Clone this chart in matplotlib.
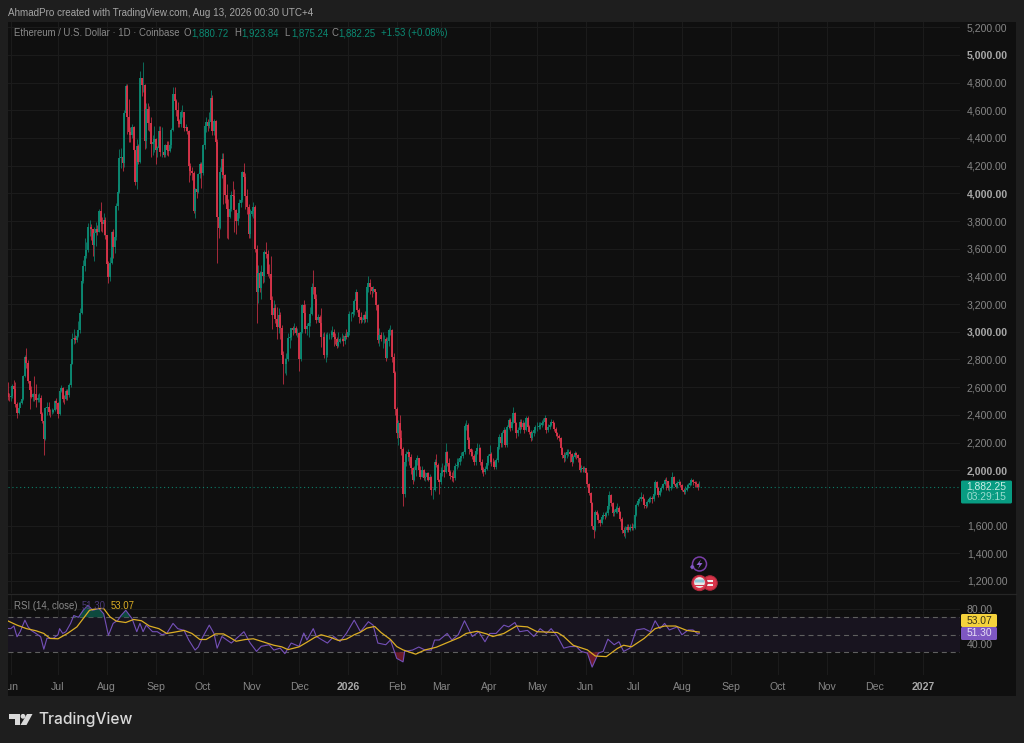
import numpy as np
import pandas as pd
import matplotlib
matplotlib.use('Agg')
import matplotlib.pyplot as plt
from matplotlib.patches import Rectangle, Circle, Polygon, FancyBboxPatch

plt.rcParams['font.family'] = ['Liberation Sans', 'DejaVu Sans']

# daily candles, one row per month (May 30 2025 -> Aug 12 2026)
closes = [
    2532, 2528,
    2538, 2606, 2590, 2478, 2415, 2448, 2488, 2513, 2681, 2817, 2771, 2644, 2579, 2530, 2548, 2547, 2509, 2524, 2525, 2406, 2355, 2228, 2446, 2454, 2420, 2418, 2424, 2436, 2500, 2486,
    2406, 2570, 2595, 2515, 2513, 2570, 2541, 2615, 2770, 2951, 2957, 2943, 2971, 3012, 3139, 3370, 3477, 3550, 3593, 3758, 3760, 3745, 3628, 3715, 3745, 3722, 3875, 3795, 3780, 3805, 3697,
    3490, 3395, 3495, 3720, 3612, 3683, 3910, 4011, 4258, 4260, 4220, 4580, 4778, 4555, 4440, 4425, 4480, 4310, 4080, 4340, 4228, 4830, 4780, 4780, 4375, 4610, 4510, 4505, 4360, 4370, 4390,
    4310, 4325, 4450, 4300, 4300, 4280, 4350, 4310, 4305, 4350, 4460, 4715, 4670, 4600, 4525, 4500, 4590, 4590, 4470, 4480, 4450, 4200, 4165, 4150, 3875, 4030, 4010, 4140, 4215, 4145,
    4350, 4485, 4515, 4490, 4515, 4690, 4450, 4525, 4370, 3830, 3750, 4155, 4250, 4130, 3985, 3890, 3830, 3890, 3985, 3980, 3880, 3800, 3855, 3930, 3950, 4155, 4120, 3980, 3900, 3705, 3850,
    3870, 3905, 3600, 3290, 3425, 3315, 3435, 3400, 3580, 3560, 3420, 3415, 3230, 3120, 3170, 3090, 3035, 3120, 3025, 2830, 2765, 2770, 2805, 2955, 2960, 3025, 3010, 3030, 2990, 2990,
    2800, 2995, 3190, 3135, 3020, 3045, 3060, 3130, 3325, 3320, 3240, 3085, 3110, 3060, 2960, 2965, 2830, 2830, 2975, 2975, 2980, 3000, 2960, 2945, 2900, 2925, 2945, 2950, 2935, 2970, 2965,
    3000, 3125, 3125, 3140, 3220, 3290, 3160, 3110, 3085, 3085, 3120, 3090, 3325, 3350, 3320, 3295, 3310, 3285, 3190, 2940, 2980, 2950, 2950, 2950, 2810, 2930, 3010, 3010, 2820, 2700, 2440,
    2270, 2340, 2230, 2150, 1825, 2060, 2120, 2134, 2098, 2014, 1930, 2002, 2074, 2086, 2002, 1954, 2002, 1942, 1954, 1978, 1930, 1954, 1857, 1857, 2062, 2038, 1930, 1918,
    1978, 2000, 1990, 2130, 2050, 1990, 1960, 1950, 1942, 2030, 2040, 2060, 2090, 2100, 2130, 2320, 2330, 2220, 2150, 2130, 2100, 2060, 2140, 2160, 2160, 2060, 2000, 1990, 2010, 2050, 2100,
    2120, 2062, 2060, 2026, 2074, 2171, 2243, 2195, 2267, 2291, 2183, 2315, 2363, 2303, 2351, 2411, 2339, 2267, 2291, 2351, 2315, 2339, 2291, 2375, 2315, 2279, 2231, 2267, 2291, 2310,
    2310, 2320, 2327, 2340, 2351, 2375, 2291, 2310, 2327, 2345, 2339, 2300, 2267, 2250, 2231, 2159, 2110, 2086, 2110, 2134, 2134, 2120, 2062, 2095, 2122, 2110, 2086, 2002, 2014, 2010, 2014,
    1978, 1900, 1834, 1761, 1600, 1569, 1701, 1677, 1640, 1617, 1660, 1680, 1670, 1690, 1740, 1820, 1760, 1689, 1700, 1720, 1725, 1700, 1650, 1570, 1544, 1570, 1590, 1570, 1590, 1580,
    1585, 1680, 1749, 1775, 1790, 1809, 1790, 1749, 1745, 1770, 1790, 1800, 1790, 1830, 1918, 1870, 1821, 1850, 1870, 1900, 1930, 1920, 1870, 1870, 1882, 1954, 1900, 1882, 1910, 1918, 1894,
    1860, 1840, 1860, 1870, 1895, 1905, 1930, 1915, 1905, 1900, 1880.72, 1882.25,
]
highs = [
    2640, 2560,
    2545, 2625, 2655, 2635, 2490, 2490, 2500, 2535, 2690, 2830, 2880, 2795, 2645, 2610, 2560, 2680, 2620, 2550, 2555, 2540, 2420, 2300, 2460, 2490, 2490, 2440, 2450, 2440, 2510, 2520,
    2490, 2585, 2615, 2600, 2545, 2585, 2590, 2630, 2790, 2990, 3020, 2980, 3000, 3080, 3170, 3400, 3520, 3675, 3650, 3785, 3810, 3780, 3745, 3760, 3790, 3770, 3885, 3940, 3830, 3855, 3830,
    3700, 3510, 3540, 3730, 3740, 3700, 3930, 4070, 4320, 4330, 4330, 4600, 4790, 4790, 4680, 4480, 4500, 4490, 4310, 4390, 4360, 4885, 4830, 4950, 4790, 4650, 4650, 4630, 4550, 4420, 4490,
    4400, 4345, 4490, 4490, 4480, 4310, 4360, 4380, 4380, 4385, 4470, 4770, 4770, 4680, 4660, 4540, 4600, 4640, 4590, 4500, 4480, 4460, 4220, 4190, 4160, 4040, 4030, 4150, 4230, 4230,
    4360, 4510, 4550, 4540, 4590, 4750, 4710, 4540, 4530, 4390, 3860, 4190, 4290, 4290, 4140, 4070, 3960, 3910, 4020, 4090, 4030, 3890, 3880, 3960, 3970, 4160, 4220, 4150, 4030, 3925, 3890,
    3890, 3935, 3915, 3630, 3480, 3440, 3480, 3460, 3590, 3650, 3590, 3490, 3550, 3260, 3230, 3200, 3180, 3170, 3140, 3050, 2860, 2810, 2850, 2990, 3000, 3030, 3040, 3060, 3040, 3030,
    3000, 3000, 3200, 3230, 3200, 3060, 3100, 3180, 3350, 3450, 3320, 3270, 3130, 3120, 3175, 2990, 3000, 2990, 3000, 2990, 3010, 3040, 3020, 2990, 2960, 3000, 2960, 2990, 2980, 2990, 3020,
    3010, 3150, 3140, 3170, 3240, 3310, 3290, 3170, 3140, 3110, 3130, 3150, 3340, 3400, 3380, 3320, 3330, 3310, 3290, 3200, 3030, 3000, 3000, 2980, 2960, 2960, 3030, 3050, 3020, 2850, 2720,
    2460, 2360, 2400, 2290, 2170, 2110, 2140, 2150, 2130, 2120, 2020, 2030, 2080, 2110, 2090, 2030, 2030, 2010, 1990, 1990, 1990, 1970, 1960, 1870, 2080, 2120, 2050, 1940,
    2020, 2050, 2040, 2195, 2140, 2090, 2000, 1990, 2000, 2050, 2090, 2090, 2100, 2130, 2140, 2340, 2365, 2340, 2240, 2160, 2150, 2120, 2160, 2200, 2190, 2170, 2080, 2020, 2030, 2080, 2120,
    2180, 2130, 2090, 2075, 2090, 2190, 2260, 2260, 2280, 2310, 2300, 2330, 2380, 2380, 2370, 2460, 2420, 2350, 2310, 2370, 2370, 2360, 2350, 2390, 2390, 2330, 2290, 2280, 2300, 2330,
    2345, 2345, 2350, 2360, 2375, 2400, 2380, 2335, 2345, 2370, 2365, 2350, 2310, 2275, 2260, 2240, 2165, 2135, 2130, 2150, 2150, 2145, 2125, 2110, 2140, 2135, 2115, 2090, 2040, 2030, 2030,
    2000, 1985, 1905, 1840, 1770, 1610, 1715, 1715, 1690, 1650, 1680, 1695, 1700, 1705, 1760, 1850, 1825, 1770, 1720, 1740, 1760, 1745, 1705, 1660, 1590, 1600, 1610, 1610, 1610, 1620,
    1610, 1695, 1760, 1790, 1810, 1840, 1825, 1800, 1770, 1785, 1810, 1815, 1815, 1840, 1930, 1925, 1875, 1870, 1885, 1910, 1945, 1950, 1925, 1890, 1900, 1985, 1955, 1910, 1920, 1935, 1925,
    1900, 1870, 1885, 1900, 1905, 1930, 1945, 1940, 1925, 1925, 1910, 1923.84,
]
lows = [
    2510, 2500,
    2500, 2520, 2560, 2455, 2375, 2405, 2470, 2480, 2510, 2670, 2740, 2630, 2440, 2520, 2500, 2500, 2460, 2490, 2495, 2380, 2340, 2110, 2215, 2400, 2400, 2385, 2405, 2410, 2425, 2440,
    2375, 2400, 2565, 2490, 2480, 2505, 2510, 2530, 2600, 2765, 2910, 2920, 2925, 2960, 2990, 3130, 3350, 3440, 3530, 3580, 3690, 3660, 3550, 3510, 3620, 3700, 3720, 3730, 3720, 3700, 3670,
    3460, 3355, 3370, 3490, 3530, 3570, 3660, 3880, 4000, 4180, 4160, 4190, 4560, 4430, 4370, 4370, 4400, 4220, 4060, 4030, 4210, 4220, 4700, 4730, 4320, 4330, 4460, 4450, 4260, 4280, 4300,
    4210, 4260, 4315, 4270, 4260, 4260, 4260, 4280, 4270, 4300, 4330, 4450, 4650, 4560, 4480, 4480, 4480, 4550, 4450, 4450, 4430, 4080, 4130, 4100, 3860, 3820, 3970, 4000, 4110, 4040,
    4130, 4320, 4440, 4450, 4470, 4490, 4420, 4420, 4340, 3500, 3680, 3740, 4110, 3920, 3930, 3680, 3670, 3820, 3870, 3950, 3720, 3710, 3770, 3820, 3900, 3940, 4090, 3890, 3850, 3680, 3680,
    3840, 3820, 3580, 3060, 3210, 3290, 3240, 3350, 3360, 3530, 3400, 3390, 3180, 3020, 3110, 3060, 2950, 2990, 2950, 2810, 2620, 2700, 2690, 2790, 2880, 2940, 2980, 2990, 2980, 2960,
    2720, 2790, 2990, 3090, 2990, 2980, 2960, 3040, 3120, 3270, 3170, 3060, 3070, 3040, 2890, 2900, 2810, 2780, 2820, 2950, 2950, 2960, 2900, 2915, 2880, 2890, 2920, 2935, 2900, 2910, 2950,
    2960, 2980, 3080, 3110, 3120, 3200, 3140, 3060, 3060, 3070, 3060, 3070, 3070, 3290, 3270, 3250, 3280, 3270, 3160, 2920, 2900, 2930, 2880, 2920, 2790, 2810, 2900, 2980, 2780, 2680, 2400,
    2230, 2180, 2170, 2110, 1742, 1810, 2030, 2070, 2040, 1970, 1900, 1920, 1960, 2040, 1970, 1940, 1950, 1930, 1920, 1930, 1920, 1920, 1820, 1790, 1850, 2020, 1920, 1830,
    1900, 1960, 1950, 1980, 2030, 1970, 1940, 1920, 1915, 1930, 2010, 2020, 2040, 2070, 2090, 2120, 2290, 2200, 2120, 2100, 2080, 2040, 2040, 2120, 2130, 2040, 1980, 1960, 1970, 2000, 2040,
    2050, 2030, 2030, 2010, 2010, 2060, 2150, 2170, 2170, 2250, 2170, 2170, 2300, 2280, 2290, 2340, 2320, 2230, 2250, 2270, 2300, 2300, 2270, 2280, 2300, 2260, 2210, 2220, 2250, 2270,
    2280, 2295, 2300, 2315, 2325, 2340, 2270, 2275, 2295, 2320, 2320, 2280, 2250, 2225, 2210, 2140, 2090, 2060, 2070, 2090, 2100, 2060, 2030, 2050, 2085, 2080, 2060, 1990, 1985, 1990, 1990,
    1950, 1880, 1820, 1740, 1575, 1509, 1560, 1650, 1620, 1600, 1610, 1650, 1650, 1660, 1680, 1720, 1740, 1670, 1670, 1690, 1690, 1680, 1630, 1550, 1525, 1513, 1555, 1555, 1560, 1565,
    1565, 1575, 1670, 1740, 1760, 1780, 1770, 1730, 1725, 1735, 1760, 1770, 1765, 1780, 1820, 1855, 1805, 1815, 1840, 1865, 1890, 1860, 1860, 1850, 1860, 1870, 1890, 1870, 1875, 1895, 1880,
    1850, 1825, 1830, 1850, 1870, 1885, 1895, 1895, 1880, 1880, 1860, 1875.24,
]
first_open = 2560

# RSI and its moving average, day numbers count from Jun 1 2025
rsi_days = [-2, 0, 2, 4, 6, 9, 11, 13, 16, 19, 21, 23, 25, 27, 30, 31, 33, 35, 38, 40, 43, 46, 49, 52, 56, 59, 62, 65, 68, 70, 73, 77, 80, 82, 84, 86, 90, 93, 96, 99, 103, 106, 110, 113, 117, 119, 122, 126, 129, 131, 134, 140, 148, 152, 156, 159, 164, 167, 171, 174, 178, 183, 186, 188, 192, 194, 201, 205, 209, 213, 218, 222, 227, 230, 233, 238, 241, 245, 249, 250, 255, 259, 263, 267, 269, 272, 277, 280, 284, 288, 293, 297, 301, 304, 308, 313, 316, 320, 323, 328, 332, 336, 340, 343, 347, 351, 355, 359, 362, 366, 369, 373, 376, 379, 383, 386, 389, 393, 397, 402, 406, 409, 412, 415, 418, 423, 426, 430, 433, 436, 437]
rsi_values = [57.2, 57, 60, 47.7, 53.5, 66.7, 59, 55, 51.5, 47.7, 33.5, 46, 46, 46, 50, 57, 51.5, 53.5, 63, 72, 70, 78, 83.7, 78, 80, 74, 49.3, 63, 66.7, 72, 78, 68.5, 53.5, 63, 53.5, 61, 53.5, 53.5, 50, 51.5, 63, 57, 55, 44, 32.5, 36, 48, 61, 51.5, 34.7, 48, 40.5, 53.5, 40.5, 31, 36.8, 38.6, 32.5, 34.7, 28.4, 40.5, 36.8, 52, 44, 57, 48, 40.5, 48, 42.3, 51.5, 66.7, 53.5, 64.9, 61, 40.5, 38.6, 44, 23, 19, 31, 32.5, 36, 32.5, 32.5, 44, 44, 51.5, 44, 50, 66, 48, 53.5, 42, 51.5, 51.5, 61, 59, 64, 53.5, 55, 48, 57, 51.5, 57, 48, 34.7, 36.5, 36.5, 31, 29, 13, 29, 31, 45, 38.6, 42, 31, 34.7, 55.5, 57, 53.5, 66, 57, 63, 55.5, 59, 50, 55.5, 55.5, 51, 51.3]
ma_days = [-2, 4, 10, 16, 21, 25, 30, 36, 42, 46, 50, 55, 59, 63, 67, 73, 78, 83, 88, 94, 99, 104, 110, 115, 120, 124, 130, 135, 139, 143, 149, 154, 160, 167, 172, 176, 183, 188, 193, 197, 203, 208, 213, 218, 222, 226, 231, 235, 241, 245, 249, 257, 263, 270, 277, 285, 289, 296, 302, 306, 313, 321, 328, 334, 347, 351, 357, 366, 371, 378, 385, 389, 394, 402, 409, 415, 422, 429, 437]
ma_values = [66, 61, 57, 54.6, 51.5, 45.8, 45.4, 51.5, 59, 68.5, 78, 80, 80, 70.5, 65.6, 64, 67.5, 66, 60, 57, 51.5, 53, 55, 51.5, 44.6, 44.6, 51, 51, 47, 42.6, 44.6, 45.4, 42, 38, 36.2, 33, 36.2, 41.5, 47, 50, 47, 43.5, 45, 50, 53, 57.6, 59.5, 52.6, 44.6, 36.5, 32.7, 27.8, 32.7, 35.7, 41, 47, 51.5, 54, 51, 48, 51.5, 60, 59, 53.5, 52.6, 48, 38, 32.7, 25.7, 25, 34.3, 38, 36.2, 45.8, 57, 60, 60, 55, 53.07]

price_ticks = [1200, 1400, 1600, 2000, 2200, 2400, 2600, 2800, 3000, 3200, 3400, 3600, 3800, 4000, 4200, 4400, 4600, 4800, 5000, 5200]
month_starts = ['2025-06-01', '2025-07-01', '2025-08-01', '2025-09-01', '2025-10-01', '2025-11-01', '2025-12-01', '2026-01-01', '2026-02-01', '2026-03-01', '2026-04-01', '2026-05-01', '2026-06-01', '2026-07-01', '2026-08-01', '2026-09-01', '2026-10-01', '2026-11-01', '2026-12-01', '2027-01-01']
month_labels = ['Jun', 'Jul', 'Aug', 'Sep', 'Oct', 'Nov', 'Dec', '2026', 'Feb', 'Mar', 'Apr', 'May', 'Jun', 'Jul', 'Aug', 'Sep', 'Oct', 'Nov', 'Dec', '2027']

assert len(closes) == len(highs) == len(lows) == 440
assert len(rsi_days) == len(rsi_values) and len(ma_days) == len(ma_values)

OUTER = '#1e1e1e'
PANE = '#0f0f0f'
GRID = '#1b1b1b'
GREEN = '#0b8a73'
RED = '#d8344a'
TEXT = '#868686'

W, H = 1024, 743
fig = plt.figure(figsize=(W / 100, H / 100), dpi=100, facecolor=OUTER)


def px_axes(left, top, right, bottom, **kw):
    return fig.add_axes([left / W, 1 - bottom / H, (right - left) / W, (bottom - top) / H], **kw)


# background frame, sits behind everything
back = fig.add_axes([0, 0, 1, 1], zorder=0)
back.set_xlim(0, W)
back.set_ylim(H, 0)
back.axis('off')
back.add_patch(Rectangle((8, 22), 1008, 674, fc=PANE, ec='none'))

start = pd.Timestamp('2025-05-30')
dates = pd.date_range(start, periods=len(closes), freq='D')
day0 = pd.Timestamp('2025-06-01')
xleft = pd.Timestamp('2025-07-01') - pd.Timedelta(days=50 / 1.5756)
xright = xleft + pd.Timedelta(days=952 / 1.5756)
ticks = pd.to_datetime(month_starts)

closes = np.array(closes, dtype=float)
highs = np.array(highs, dtype=float)
lows = np.array(lows, dtype=float)
opens = np.r_[first_open, closes[:-1]]
up = closes >= opens
colors = np.where(up, GREEN, RED)

# price pane
ax = px_axes(8, 22, 960, 593, zorder=1)
ax.set_facecolor('none')
ax.vlines(dates, lows, highs, colors=colors, lw=0.7, alpha=0.75, zorder=3)
ax.vlines(dates, opens, closes, colors=colors, lw=1.35, zorder=4)
ax.axhline(closes[-1], color='#0d7d69', lw=0.8, ls=(0, (1, 2.5)), zorder=2)
ax.set_xlim(xleft, xright)
ax.set_ylim(1113, 5238)
ax.set_xticks(ticks)
ax.set_yticks(price_ticks)
ax.set_yticklabels([f'{p:,.2f}' for p in price_ticks])
ax.yaxis.tick_right()
ax.tick_params(axis='x', length=0, labelbottom=False)
ax.tick_params(axis='y', length=0, pad=5, labelsize=7.6, labelcolor=TEXT)
for p, lab in zip(price_ticks, ax.get_yticklabels()):
    if p % 1000 == 0:
        lab.set_fontweight('bold')
        lab.set_color('#a8a8a8')
ax.grid(True, color=GRID, lw=0.8)
ax.set_axisbelow(True)
for s in ax.spines.values():
    s.set_visible(False)

# rsi pane
rsi_dates = day0 + pd.to_timedelta(rsi_days, unit='D')
ma_dates = day0 + pd.to_timedelta(ma_days, unit='D')
rsi = np.array(rsi_values)

ax2 = px_axes(8, 594, 960, 675, zorder=1)
ax2.set_facecolor('none')
ax2.axhspan(30, 70, color='#18141f', lw=0, zorder=1)
for level in [70, 50, 30]:
    ax2.axhline(level, color='#5f5f5f', lw=0.8, ls=(0, (4.5, 3.5)), zorder=2)
ax2.fill_between(rsi_dates, rsi, 70, where=rsi > 70, interpolate=True, color='#0d4a3e', lw=0, zorder=2)
ax2.fill_between(rsi_dates, rsi, 30, where=rsi < 30, interpolate=True, color='#6b1a28', lw=0, zorder=2)
ax2.plot(rsi_dates, rsi, color='#7450b8', lw=0.8, zorder=3)
ax2.plot(ma_dates, ma_values, color='#dcae24', lw=0.9, zorder=4)
ax2.set_xlim(xleft, xright)
ax2.set_ylim(4, 96.6)
ax2.set_xticks(ticks)
ax2.set_xticklabels(month_labels)
ax2.set_yticks([40, 80])
ax2.set_yticklabels(['40.00', '80.00'])
ax2.yaxis.tick_right()
ax2.tick_params(axis='x', length=0, pad=5, labelsize=7.6, labelcolor=TEXT)
ax2.tick_params(axis='y', length=0, pad=5, labelsize=7.6, labelcolor=TEXT)
for lab in ax2.get_xticklabels():
    if lab.get_text().startswith('20'):
        lab.set_fontweight('bold')
        lab.set_color('#a8a8a8')
ax2.grid(True, color=GRID, lw=0.8)
ax2.set_axisbelow(True)
for s in ax2.spines.values():
    s.set_visible(False)

# overlay in pixel coordinates for the TradingView furniture
ov = fig.add_axes([0, 0, 1, 1], zorder=5)
ov.set_xlim(0, W)
ov.set_ylim(H, 0)
ov.axis('off')
ov.patch.set_alpha(0)

ov.add_patch(Rectangle((0, 675), 8, 21, fc=OUTER, ec='none'))
ov.plot([8, 1016], [593.5, 593.5], color='#262626', lw=0.9)

ov.text(8, 12.5, 'AhmadPro created with TradingView.com, Aug 13, 2026 00:30 UTC+4', color='#a6a6a6', fontsize=7.1, va='center')
legend_y = 33.5
legend_parts = [
    (14, 'Ethereum / U.S. Dollar · 1D · Coinbase', '#8a8a8a'),
    (184, 'O', '#8a8a8a'), (191, '1,880.72', GREEN),
    (234, 'H', '#8a8a8a'), (241, '1,923.84', GREEN),
    (284, 'L', '#8a8a8a'), (291, '1,875.24', GREEN),
    (331, 'C', '#8a8a8a'), (338, '1,882.25', GREEN),
    (381, '+1.53 (+0.08%)', GREEN),
]
for x, txt, col in legend_parts:
    ov.text(x, legend_y, txt, color=col, fontsize=6.9, va='center')

ov.text(14, 606, 'RSI (14, close)', color='#8a8a8a', fontsize=6.9, va='center')
ov.text(82, 606, '51.30', color='#4c3a78', fontsize=6.9, va='center')
ov.text(111, 606, '53.07', color='#dcae24', fontsize=6.9, va='center')

# last price and rsi tags
ov.add_patch(FancyBboxPatch((961, 480.5), 51, 23, boxstyle='round,pad=0,rounding_size=1.5', fc='#089c82', ec='none'))
ov.text(986.5, 486.5, '1,882.25', color='#c8ece4', fontsize=7.4, ha='center', va='center')
ov.text(986.5, 497.5, '03:29:15', color='#9adccf', fontsize=7.4, ha='center', va='center')
ov.add_patch(FancyBboxPatch((961, 614), 36, 13, boxstyle='round,pad=0,rounding_size=1.5', fc='#f5d23c', ec='none'))
ov.text(979, 620.5, '53.07', color='#3a3418', fontsize=7.4, ha='center', va='center')
ov.add_patch(FancyBboxPatch((961, 627), 36, 13, boxstyle='round,pad=0,rounding_size=1.5', fc='#7e57c2', ec='none'))
ov.text(979, 633.5, '51.30', color='#e6def5', fontsize=7.4, ha='center', va='center')

# event markers under the last candles
ov.add_patch(Circle((699.5, 564), 7, fc='none', ec='#7a3fa8', lw=1.1))
ov.add_patch(Polygon([(701, 559.5), (696.5, 565), (699.5, 565), (698, 569), (702.5, 563), (699.5, 563)], fc='#8e5fd0', ec='none'))
ov.add_patch(Polygon([(690, 567), (692, 564.5), (694.5, 567), (692, 569.5)], fc='#7e57c2', ec='none'))
ov.add_patch(Circle((710, 583), 7.2, fc='#d8344a', ec='#b02a3c', lw=0.8))
ov.add_patch(Rectangle((707, 579.5), 6, 2.3, fc='#f0f0f0', ec='none'))
ov.add_patch(Rectangle((707, 584), 6, 2.3, fc='#f0f0f0', ec='none'))
ov.add_patch(Circle((699.5, 583), 7.6, fc='#d8344a', ec='#b02a3c', lw=0.8))
ov.add_patch(Circle((699.5, 582.5), 5.4, fc='#e8e8e8', ec='none'))
ov.add_patch(Polygon([(695, 579.5), (704, 579.5), (704.5, 582.5), (694.5, 582.5)], fc='#8fc9d8', ec='none'))
ov.add_patch(Rectangle((695, 584.5), 9, 1.4, fc='#d8344a', ec='none'))

# logo
LOGO = '#d9d9d9'
ov.add_patch(Polygon([(9, 714), (19.5, 714), (19.5, 725), (14.5, 725), (14.5, 718.5), (9, 718.5)], fc=LOGO, ec='none'))
ov.add_patch(Circle((23, 716.3), 2.4, fc=LOGO, ec='none'))
ov.add_patch(Polygon([(27, 714), (32.5, 714), (26.5, 725), (20.5, 725)], fc=LOGO, ec='none'))
ov.text(38, 719.5, 'TradingView', color=LOGO, fontsize=11.2, family=['Inter', 'Liberation Sans'], fontweight='medium', va='center')

fig.savefig('out.png', dpi=100, facecolor=fig.get_facecolor())
